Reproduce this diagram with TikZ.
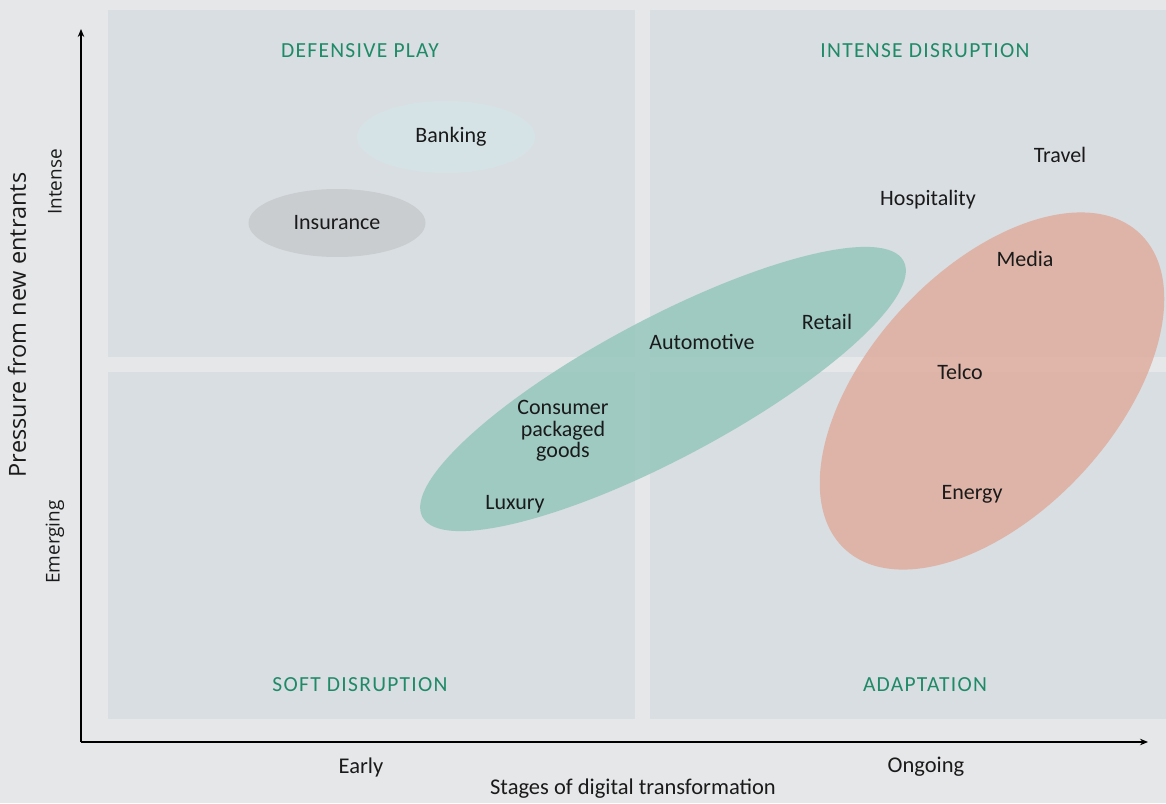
\documentclass[tikz,border=0pt]{standalone}
\usepackage{fontspec}
\setmainfont{Carlito}
\newfontfamily\titlefont[LetterSpace=6]{Carlito}
\newfontfamily\sidefont{Open Sans}
\usetikzlibrary{shapes.geometric,arrows.meta}
\definecolor{pagebg}{HTML}{E6E7E9}
\definecolor{quadbg}{HTML}{D9DEE2}
\definecolor{titlegreen}{HTML}{1F8A66}
\definecolor{tealfill}{HTML}{90C5BA}
\definecolor{salmonfill}{HTML}{DEAA99}
\definecolor{bankfill}{HTML}{D5E3E7}
\definecolor{insfill}{HTML}{C9CDD0}
\definecolor{inktext}{HTML}{1A1A1A}
\begin{document}
\begin{tikzpicture}[x=1pt,y=-1pt,
  quad/.style={fill=quadbg},
  qtitle/.style={text=titlegreen,font=\titlefont\fontsize{21.5}{24}\selectfont,inner sep=0pt},
  sector/.style={text=inktext,font=\fontsize{22}{21.5}\selectfont,inner sep=0pt,align=center},
  axislabel/.style={text=inktext,font=\fontsize{22.5}{24}\selectfont,inner sep=0pt},
  sidelabel/.style={text=inktext,font=\sidefont\fontsize{19}{22}\selectfont,inner sep=0pt,rotate=90},
  blob/.style={ellipse,inner sep=0pt,draw=none},
  axisline/.style={line width=1.4pt,-{Stealth[length=8pt,width=6.5pt]}}]
% page
\fill[pagebg] (0,0) rectangle (1166,803);
\useasboundingbox (0,0) rectangle (1166,803);
% four quadrants
\fill[quad] (108,10) rectangle (635,357);
\fill[quad] (650,10) rectangle (1166,357);
\fill[quad] (108,372) rectangle (635,719);
\fill[quad] (650,372) rectangle (1166,719);
% quadrant titles
\node[qtitle] (tdef) at (360,51) {DEFENSIVE PLAY};
\node[qtitle] (tint) at (925,51) {INTENSE DISRUPTION};
\node[qtitle] (tsoft) at (360,685) {SOFT DISRUPTION};
\node[qtitle] (tadapt) at (925,685) {ADAPTATION};
% clusters
\node[blob,fill=bankfill,minimum width=178pt,minimum height=72pt] (ebank) at (446,137) {};
\node[blob,fill=insfill,minimum width=177pt,minimum height=68pt] (eins) at (337,223) {};
\node[blob,fill=tealfill,fill opacity=0.8,minimum width=545pt,minimum height=140pt,rotate=28] (eteal) at (663,389) {};
\node[blob,fill=salmonfill,fill opacity=0.8,minimum width=432pt,minimum height=244pt,rotate=47] (esalmon) at (992,391) {};
% sector labels
\node[sector] (banking) at (451,137) {Banking};
\node[sector] (insurance) at (337,223) {Insurance};
\node[sector] (travel) at (1060,155) {Travel};
\node[sector] (hospitality) at (928,200) {Hospitality};
\node[sector] (media) at (1025,259) {Media};
\node[sector] (retail) at (827,322) {Retail};
\node[sector] (automotive) at (702,342) {Automotive};
\node[sector] (telco) at (960,372) {Telco};
\node[sector] (cpg) at (563,431) {Consumer\\packaged\\goods};
\node[sector] (luxury) at (515,504) {Luxury};
\node[sector] (energy) at (972,494) {Energy};
% axes
\coordinate (origin) at (81,742);
\coordinate (ytip) at (81,29);
\coordinate (xtip) at (1148,742);
\draw[axisline] (origin) -- (ytip);
\draw[axisline] (origin) -- (xtip);
% axis labels
\node[axislabel] (early) at (361,767) {Early};
\node[axislabel] (ongoing) at (926,767) {Ongoing};
\node[axislabel] (xtitle) at (633,789) {Stages of digital transformation};
\node[sidelabel,font=\sidefont\fontsize{23.5}{26}\selectfont] (ytitle) at (17,325) {Pressure from new entrants};
\node[sidelabel] (intense) at (55,182) {Intense};
\node[sidelabel] (emerging) at (55,542) {Emerging};
\end{tikzpicture}
\end{document}
